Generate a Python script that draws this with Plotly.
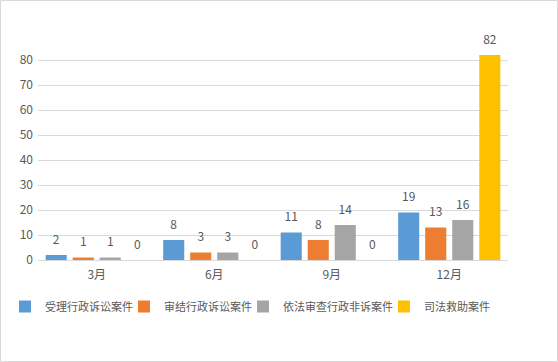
import plotly.graph_objects as go

categories = ["3月", "6月", "9月", "12月"]
series_names = ["受理行政诉讼案件", "审结行政诉讼案件", "依法审查行政非诉案件", "司法救助案件"]
series_values = [
    [2, 8, 11, 19],
    [1, 3, 8, 13],
    [1, 3, 14, 16],
    [0, 0, 0, 82],
]
colors = ["#5B9BD5", "#ED7D31", "#A5A5A5", "#FFC000"]
y_ticks = [0, 10, 20, 30, 40, 50, 60, 70, 80]

font_family = "Noto Sans CJK SC, Microsoft YaHei, sans-serif"
text_color = "#595959"

W, H = 558, 362
ml, mr, mt, mb = 38, 50, 40, 102
pw = W - ml - mr
ph = H - mt - mb

legend_ids = ["legend", "legend2", "legend3", "legend4"]
# pixel x (figure coords) of each legend box's left edge
legend_px = [5, 124, 243, 384]

fig = go.Figure()
for i, (name, vals, col, lid) in enumerate(zip(series_names, series_values, colors, legend_ids)):
    fig.add_trace(go.Bar(
        x=categories, y=vals, name=name, legend=lid, offsetgroup=str(i),
        marker=dict(color=col, line=dict(width=0)),
    ))
    fig.add_trace(go.Scatter(
        x=categories, y=vals, offsetgroup=str(i), mode="markers+text",
        marker=dict(size=12, opacity=0), text=[str(v) for v in vals],
        textposition="top center", showlegend=False, hoverinfo="skip",
        textfont=dict(size=12, color=text_color, family=font_family),
        cliponaxis=False,
    ))

legend_y = -(292 - 260) / ph
legend_layout = {}
for lid, px in zip(legend_ids, legend_px):
    legend_layout[lid] = dict(
        orientation="h", x=(px - ml) / pw, xanchor="left", y=legend_y, yanchor="top",
        font=dict(size=11, color=text_color, family=font_family), itemwidth=30,
        bgcolor="rgba(0,0,0,0)", borderwidth=0,
    )

fig.update_layout(
    width=W, height=H,
    margin=dict(l=ml, r=mr, t=mt, b=mb, autoexpand=False),
    paper_bgcolor="white", plot_bgcolor="white",
    barmode="group", bargap=0.08, bargroupgap=0.22,
    scattermode="group", scattergap=0.08,
    font=dict(family=font_family, size=12, color=text_color),
    showlegend=True,
    xaxis=dict(showgrid=False, showline=True, linecolor="#D9D9D9", linewidth=1,
               ticks="", ticklabelstandoff=4,
               tickfont=dict(size=12, color=text_color), fixedrange=True,
               automargin=False),
    yaxis=dict(range=[0, 88], tickvals=y_ticks, showgrid=True, gridcolor="#D9D9D9",
               gridwidth=1, zeroline=False, showline=False, ticks="",
               ticklabelstandoff=4, automargin=False,
               tickfont=dict(size=12, color=text_color), fixedrange=True),
    **legend_layout,
)

fig.add_shape(type="rect", xref="paper", yref="paper",
              x0=(0.5 - ml) / pw, x1=(W - 0.5 - ml) / pw,
              y0=-(mb - 0.5) / ph, y1=1 + (mt - 0.5) / ph,
              line=dict(color="#D9D9D9", width=1), fillcolor="rgba(0,0,0,0)", layer="below")

fig.write_html("out.html", config={"displayModeBar": False},
               post_script="document.body.style.margin='0';")
